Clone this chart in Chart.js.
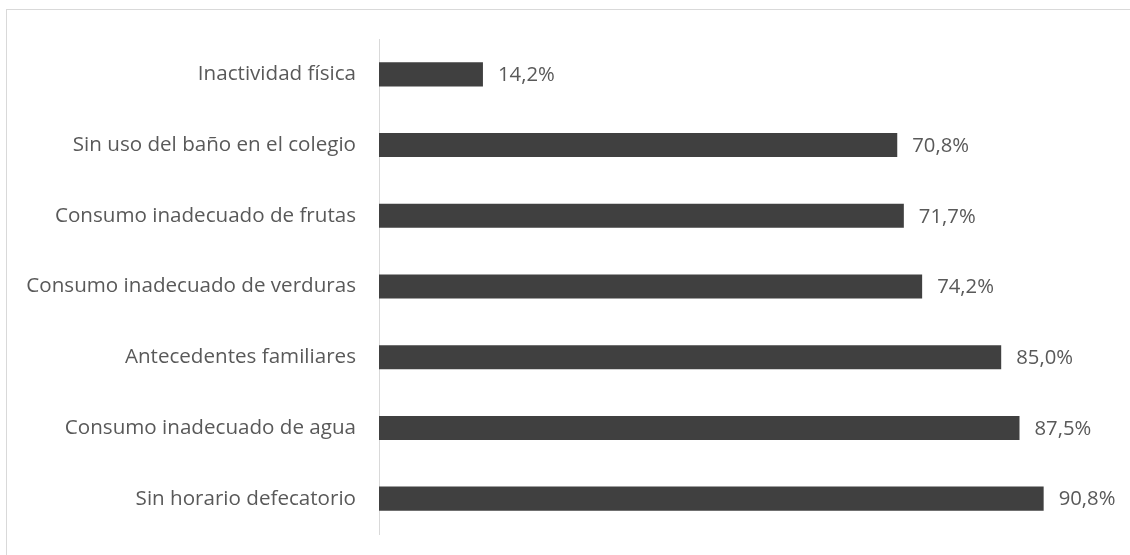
<!DOCTYPE html>
<html>
<head>
<meta charset="utf-8">
<script src="https://cdn.jsdelivr.net/npm/chart.js@4"></script>
<style>
  html, body { margin: 0; padding: 0; background: #fff; }
  #wrap { position: relative; width: 1130px; height: 555px; overflow: hidden; }
  #frame { position: absolute; left: 6px; top: 9px; width: 1140px; height: 560px; border: 1px solid #d9d9d9; box-sizing: border-box; }
  canvas { position: absolute; left: 0; top: 0; }
</style>
</head>
<body>
<div id="wrap">
  <div id="frame"></div>
  <canvas id="chart" width="1130" height="555"></canvas>
</div>
<script>
const categories = [
  'Inactividad física',
  'Sin uso del baño en el colegio',
  'Consumo inadecuado de frutas',
  'Consumo inadecuado de verduras',
  'Antecedentes familiares',
  'Consumo inadecuado de agua',
  'Sin horario defecatorio'
]
const values = [14.2, 70.8, 71.7, 74.2, 85.0, 87.5, 90.8]

const fontFamily = '"Open Sans", Lato, sans-serif'
const textColor = '#595959'

// Draw the value labels next to each bar
const valueLabels = {
  id: 'valueLabels',
  afterDatasetsDraw(chart) {
    const ctx = chart.ctx
    const meta = chart.getDatasetMeta(0)
    ctx.save()
    ctx.font = '20.3px ' + fontFamily
    ctx.fillStyle = textColor
    ctx.textAlign = 'left'
    ctx.textBaseline = 'middle'
    meta.data.forEach((bar, i) => {
      const txt = values[i].toFixed(1).replace('.', ',') + '%'
      ctx.fillText(txt, bar.x + 15, bar.y + 1)
    })
    ctx.restore()
  }
}

new Chart(document.getElementById('chart').getContext('2d'), {
  type: 'bar',
  data: {
    labels: categories,
    datasets: [{
      data: values,
      backgroundColor: '#404040',
      categoryPercentage: 1,
      barPercentage: 0.34
    }]
  },
  options: {
    indexAxis: 'y',
    responsive: false,
    animation: false,
    layout: { padding: { top: 39, bottom: 21, right: 19, left: 0 } },
    plugins: {
      legend: { display: false },
      tooltip: { enabled: false }
    },
    scales: {
      x: {
        display: false,
        min: 0,
        max: 100
      },
      y: {
        afterFit(scale) {
          scale.width = 379
          // keep the label padding from pushing the plot area in
          scale.paddingTop = 0
          scale.paddingBottom = 0
        },
        grid: { color: 'transparent', drawTicks: false },
        border: { display: true, color: '#d9d9d9', width: 1 },
        ticks: {
          padding: 23,
          color: textColor,
          font: { family: fontFamily, size: 20.6 }
        }
      }
    }
  },
  plugins: [valueLabels]
})
</script>
</body>
</html>
